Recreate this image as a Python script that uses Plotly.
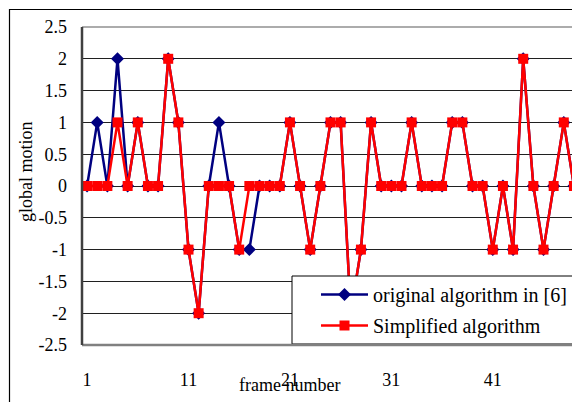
import plotly.graph_objects as go

frames = list(range(1, 50))
original = [0, 1, 0, 2, 0, 1, 0, 0, 2, 1, -1, -2, 0, 1, 0, -1, -1, 0, 0, 0,
            1, 0, -1, 0, 1, 1, -2, -1, 1, 0, 0, 0, 1, 0, 0, 0, 1, 1, 0, 0,
            -1, 0, -1, 2, 0, -1, 0, 1, 0]
simplified = [0, 0, 0, 1, 0, 1, 0, 0, 2, 1, -1, -2, 0, 0, 0, -1, 0, 0, 0, 0,
              1, 0, -1, 0, 1, 1, -2, -1, 1, 0, 0, 0, 1, 0, 0, 0, 1, 1, 0, 0,
              -1, 0, -1, 2, 0, -1, 0, 1, 0]
x_ticks = [1, 11, 21, 31, 41]
y_ticks = [2.5, 2, 1.5, 1, 0.5, 0, -0.5, -1, -1.5, -2, -2.5]
y_labels = ["2.5", "2", "1.5", "1", "0.5", "0", "-0.5", "-1", "-1.5", "-2", "-2.5"]

FONT = "Liberation Serif"
OFF = 8  # page body margin
W, H = 580 - OFF, 402 - OFF
L, R, T, B = 82 - OFF, 1, 27 - OFF, 402 - 345
PW, PH = W - L - R, H - T - B

def px_x(p):
    return (p - OFF - L) / PW

def px_y(p):
    return (H - B - (p - OFF)) / PH

fig = go.Figure()
fig.add_trace(go.Scatter(
    x=frames, y=original, mode="lines+markers", name="original algorithm in [6]",
    line=dict(color="#000080", width=2.5),
    marker=dict(symbol="diamond", size=10, color="#000080"),
    legendgroup="a"))
fig.add_trace(go.Scatter(
    x=frames, y=simplified, mode="lines+markers", name="Simplified algorithm",
    line=dict(color="#FF0000", width=2.5),
    marker=dict(symbol="square", size=10, color="#FF0000"),
    legendgroup="b"))

fig.update_layout(
    width=W, height=H,
    margin=dict(l=L, r=R, t=T, b=B, pad=0, autoexpand=False),
    paper_bgcolor="white", plot_bgcolor="white",
    font=dict(family=FONT, size=18, color="black"),
    showlegend=True,
    legend=dict(x=px_x(316), y=px_y(275), xanchor="left", yanchor="top",
                bgcolor="rgba(0,0,0,0)", borderwidth=0,
                font=dict(family=FONT, size=20), traceorder="grouped",
                tracegroupgap=2, itemwidth=47),
    xaxis=dict(range=[0.5, 49.5], tickmode="array", tickvals=x_ticks,
               showgrid=False, zeroline=False, showline=False, ticks="",
               ticklabelstandoff=22, tickfont=dict(family=FONT, size=18)),
    yaxis=dict(range=[-2.5, 2.5], tickmode="array", tickvals=y_ticks,
               ticktext=y_labels, showgrid=True, gridcolor="#202020",
               gridwidth=1, zeroline=False, showline=False, ticks="",
               ticklabelstandoff=14, tickfont=dict(family=FONT, size=18)),
    shapes=[
        dict(type="line", xref="paper", yref="paper", x0=0, x1=1, y0=1, y1=1,
             line=dict(color="#909090", width=1.5), layer="above"),
        dict(type="rect", xref="paper", yref="paper",
             x0=px_x(292), x1=px_x(700), y0=px_y(344), y1=px_y(276),
             fillcolor="white", line=dict(color="black", width=1),
             layer="above"),
        dict(type="line", xref="paper", yref="paper", x0=0, x1=1, y0=0, y1=0,
             line=dict(color="#808080", width=2.5), layer="above"),
        dict(type="line", xref="paper", yref="paper", x0=0, x1=0, y0=0, y1=1,
             line=dict(color="#404040", width=2.5), layer="above"),
        dict(type="rect", xref="paper", yref="paper",
             x0=px_x(9.5), x1=px_x(700), y0=px_y(500), y1=px_y(9.5),
             line=dict(color="black", width=1.2), layer="above"),
    ],
    annotations=[
        dict(text="frame number", xref="paper", yref="paper",
             x=px_x(289), y=px_y(385), xanchor="center", yanchor="middle",
             showarrow=False, font=dict(family=FONT, size=18)),
        dict(text="global motion", xref="paper", yref="paper",
             x=px_x(26), y=px_y(172), xanchor="center", yanchor="middle",
             textangle=-90, showarrow=False, font=dict(family=FONT, size=18)),
    ],
)

fig.write_html("out.html")
